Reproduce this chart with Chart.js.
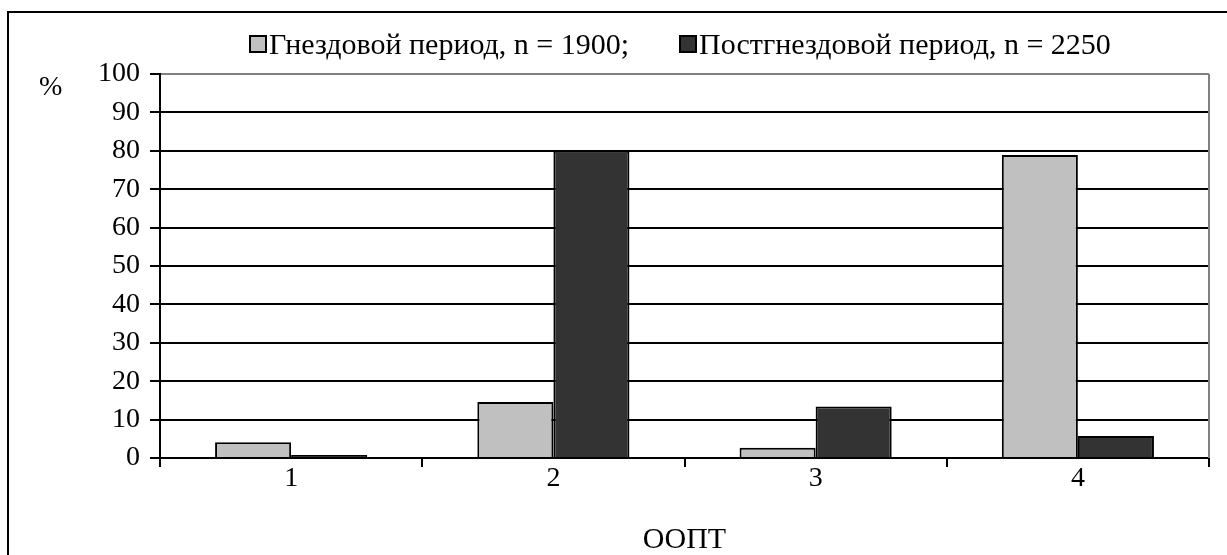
<!DOCTYPE html>
<html>
<head>
<meta charset="utf-8">
<script src="https://cdn.jsdelivr.net/npm/chart.js@4.4.0/dist/chart.umd.min.js"></script>
<style>
  body { margin: 0; background: #fff; }
  .wrap { position: relative; width: 1227px; height: 555px; overflow: hidden; font-family: "Liberation Serif", serif; }
  .frame { position: absolute; left: 7px; top: 11px; width: 1400px; height: 700px; border-left: 2px solid #000; border-top: 2px solid #000; }
  canvas { position: absolute; left: 0; top: 0; }
  .legend { position: absolute; top: 27px; left: 249px; display: flex; font-size: 30px; line-height: 34px; color: #000; }
  .legend span.item { display: flex; align-items: center; margin-right: 50px; }
  .legend i { display: inline-block; width: 14px; height: 14px; border: 2px solid #000; margin-right: 2px; }
  .pct { position: absolute; left: 39px; top: 70px; font-size: 28px; }
</style>
</head>
<body>
<div class="wrap">
  <div class="frame"></div>
  <canvas id="chart" width="1227" height="555"></canvas>
  <div class="legend"></div>
  <div class="pct">%</div>
</div>
<script>
const categories = ["1", "2", "3", "4"];
const nestingValues = [4.1, 14.6, 2.7, 78.9];
const postNestingValues = [0.8, 80, 13.4, 5.7];
const seriesLabels = ["Гнездовой период, n = 1900;", "Постгнездовой период, n = 2250"];
const seriesColors = ["#c0c0c0", "#333333"];

const serif = "'Liberation Serif', 'Times New Roman', serif";

// gray right edge of the plot area
const frameRight = {
  id: "frameRight",
  beforeDatasetsDraw(chart) {
    const a = chart.chartArea;
    const ctx = chart.ctx;
    ctx.save();
    ctx.strokeStyle = "#808080";
    ctx.lineWidth = 2;
    ctx.beginPath();
    ctx.moveTo(a.right, a.top);
    ctx.lineTo(a.right, a.bottom);
    ctx.stroke();
    ctx.restore();
  }
};

new Chart(document.getElementById("chart"), {
  type: "bar",
  data: {
    labels: categories,
    datasets: [
      { label: seriesLabels[0], data: nestingValues, backgroundColor: seriesColors[0], borderColor: "#000", borderWidth: 2 },
      { label: seriesLabels[1], data: postNestingValues, backgroundColor: seriesColors[1], borderColor: "#000", borderWidth: 2 }
    ]
  },
  options: {
    responsive: false,
    animation: false,
    layout: { padding: { left: 0, top: 74, right: 18, bottom: 0 } },
    datasets: { bar: { categoryPercentage: 0.58, barPercentage: 1 } },
    plugins: { legend: { display: false }, tooltip: { enabled: false } },
    scales: {
      x: {
        afterFit(s) { s.height = 97; },
        grid: { drawOnChartArea: false, color: "#000", tickColor: "#000", tickLength: 9, lineWidth: 2, offset: true },
        border: { color: "#000", width: 2 },
        ticks: { color: "#000", font: { family: serif, size: 28 }, padding: -5 },
        title: { display: true, text: "ООПТ", color: "#000", font: { family: serif, size: 30, lineHeight: 1 }, padding: { top: 0, bottom: 0 } }
      },
      y: {
        min: 0, max: 100,
        afterFit(s) { s.width = 160; },
        grid: {
          color: (c) => (c.tick && c.tick.value === 100 ? "#808080" : "#000"),
          tickColor: "#000", tickLength: 10, lineWidth: 2
        },
        border: { color: "#000", width: 2 },
        ticks: { stepSize: 10, color: "#000", font: { family: serif, size: 28 }, padding: 10 }
      }
    }
  },
  plugins: [frameRight]
});

const legend = document.querySelector(".legend");
seriesLabels.forEach((l, i) => {
  let item = document.createElement("span");
  item.className = "item";
  item.innerHTML = `<i style="background:${seriesColors[i]}"></i>${l}`;
  legend.appendChild(item);
});
</script>
</body>
</html>
